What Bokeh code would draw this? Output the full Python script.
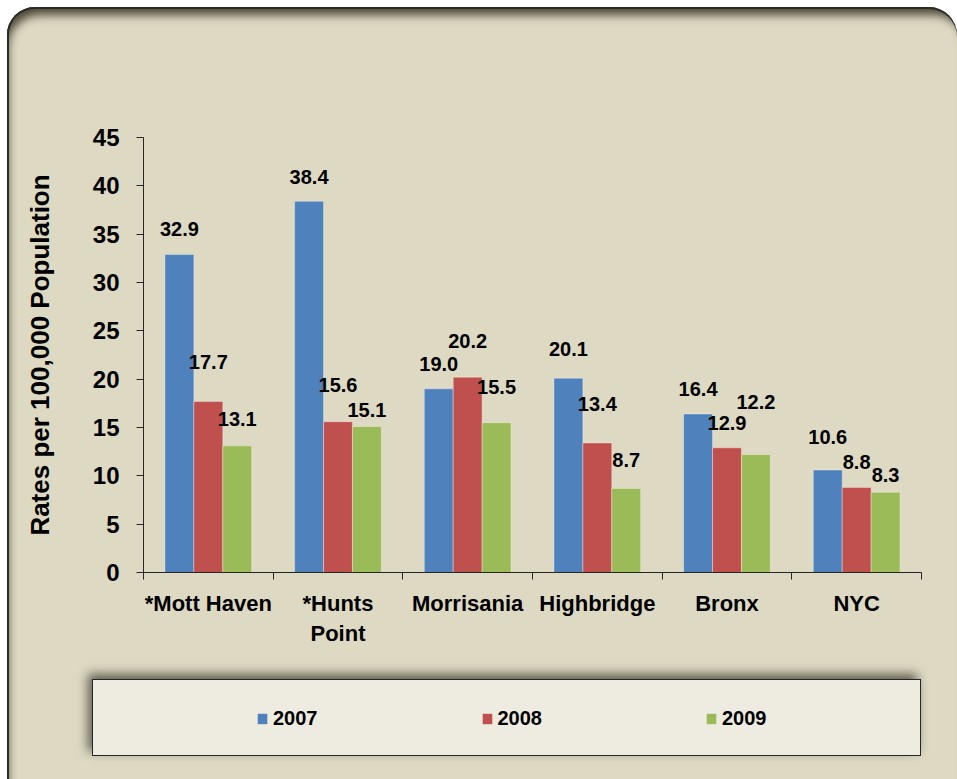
from bokeh.plotting import figure
from bokeh.models import (FixedTicker, Range1d, ColumnDataSource, LabelSet,
                          Legend, LegendItem)
from bokeh.layouts import column
from bokeh.core.properties import value, field
from bokeh.embed import file_html
from bokeh.resources import INLINE

# ---------------- data ----------------
CATEGORIES = ["*Mott Haven", "*Hunts\nPoint", "Morrisania", "Highbridge", "Bronx", "NYC"]
SERIES = ["2007", "2008", "2009"]
Y2007 = [32.9, 38.4, 19.0, 20.1, 16.4, 10.6]
Y2008 = [17.7, 15.6, 20.2, 13.4, 12.9, 8.8]
Y2009 = [13.1, 15.1, 15.5, 8.7, 12.2, 8.3]
Y_TICKS = [0, 5, 10, 15, 20, 25, 30, 35, 40, 45]
Y_LABEL = "Rates per 100,000 Population"

# label lift above bar top (px), per series, per category
RAISE_2007 = [25, 24, 25, 29, 25, 33]
RAISE_2008 = [39, 37, 36, 39, 25, 25]
RAISE_2009 = [27, 17, 36, 28, 53, 17]

COLORS = ["#4F81BD", "#C0504D", "#9BBB59"]
FONT = "Liberation Sans"
BG = "#DDD9C3"
AXIS_C = "#262626"

values = [Y2007, Y2008, Y2009]
raises = [RAISE_2007, RAISE_2008, RAISE_2009]
BAR_W = 0.223
offsets = [-BAR_W, 0.0, BAR_W]
centers = [i + 0.5 for i in range(len(CATEGORIES))]

p = figure(width=950, height=661, x_range=Range1d(0, len(CATEGORIES)),
           y_range=Range1d(0, 45), output_backend="svg", toolbar_location=None,
           title=None, min_border_left=136, min_border_top=130,
           min_border_right=36, min_border_bottom=96)
p.border_fill_color = None
p.background_fill_color = None
p.outline_line_color = None
p.xgrid.visible = False
p.ygrid.visible = False

for k in range(3):
    xs = [c + offsets[k] for c in centers]
    src = ColumnDataSource(dict(x=xs, top=values[k]))
    p.vbar(x="x", top="top", width=BAR_W, source=src, fill_color=COLORS[k],
           line_color="white", line_alpha=0.35, line_width=1)
    lsrc = ColumnDataSource(dict(x=xs, y=values[k],
                                 text=["%.1f" % v for v in values[k]],
                                 lift=raises[k]))
    p.add_layout(LabelSet(x="x", y="y", text="text", y_offset=field("lift"),
                          source=lsrc, text_align="center", text_baseline="middle",
                          text_font=value(FONT), text_font_style="bold",
                          text_font_size="20px", text_color="black"))

# x axis: labels at centres, ticks at boundaries
xa = p.xaxis[0]
xa.ticker = FixedTicker(ticks=centers, minor_ticks=list(range(len(CATEGORIES) + 1)))
xa.major_label_overrides = {c: lab for c, lab in zip(centers, CATEGORIES)}
xa.major_tick_out = 0
xa.major_tick_in = 0
xa.minor_tick_out = 7
xa.minor_tick_in = 0
xa.minor_tick_line_color = AXIS_C
xa.axis_line_color = AXIS_C
xa.major_label_standoff = 11
xa.major_label_text_font = FONT
xa.major_label_text_font_style = "bold"
xa.major_label_text_font_size = "22px"
xa.major_label_text_color = "black"

ya = p.yaxis[0]
ya.ticker = FixedTicker(ticks=Y_TICKS, minor_ticks=[])
ya.major_tick_out = 7
ya.major_tick_in = 0
ya.major_tick_line_color = AXIS_C
ya.axis_line_color = AXIS_C
ya.major_label_standoff = 17
ya.major_label_text_font = FONT
ya.major_label_text_font_style = "bold"
ya.major_label_text_font_size = "24px"
ya.major_label_text_color = "black"
ya.axis_label = Y_LABEL
ya.axis_label_standoff = 35
ya.axis_label_text_font = FONT
ya.axis_label_text_font_style = "bold"
ya.axis_label_text_font_size = "26px"
ya.axis_label_text_color = "black"

# legend panel (its own box, with a soft shadow)
p2 = figure(width=829, height=77, x_range=Range1d(0, 1), y_range=Range1d(0, 1),
            output_backend="svg", toolbar_location=None, title=None,
            x_axis_location=None, y_axis_location=None, min_border=0,
            margin=(11, 36, 23, 85),
            styles={"background-color": "#EEECE1",
                    "box-shadow": "inset 0 0 0 1px #262626, -4px -5px 10px rgba(30,28,15,0.65)"})
p2.border_fill_color = None
p2.background_fill_color = None
p2.outline_line_color = None
p2.xgrid.visible = False
p2.ygrid.visible = False
items = []
for k in range(3):
    # legend-only renderers, kept outside the visible ranges
    r = p2.vbar(x=[-5], top=[-5], width=0.1, fill_color=COLORS[k], line_color=None)
    items.append(LegendItem(label=SERIES[k], renderers=[r]))
# the legend frame is aligned with the chart frame (x = 136 in the layout)
legend = Legend(items=items, orientation="horizontal", location=(28, 26),
                spacing=163, padding=0, margin=0, glyph_width=12, glyph_height=13,
                label_standoff=5, label_text_font=FONT, label_text_font_style="bold",
                label_text_font_size="20px", label_text_color="black",
                background_fill_alpha=0, border_line_alpha=0)
p2.add_layout(legend)

layout = column(p, p2, spacing=0, styles={
    "background-color": BG,
    "margin-left": "7px",
    "margin-top": "7px",
    "border-top-left-radius": "28px",
    "border-top-right-radius": "28px",
    "box-shadow": "inset 0 2px 0 #2a2a2a, inset 2px 0 0 #2a2a2a, inset 5px 12px 10px -4px rgba(40,36,20,0.8)",
})

open("out.html", "w").write(file_html(layout, INLINE))
